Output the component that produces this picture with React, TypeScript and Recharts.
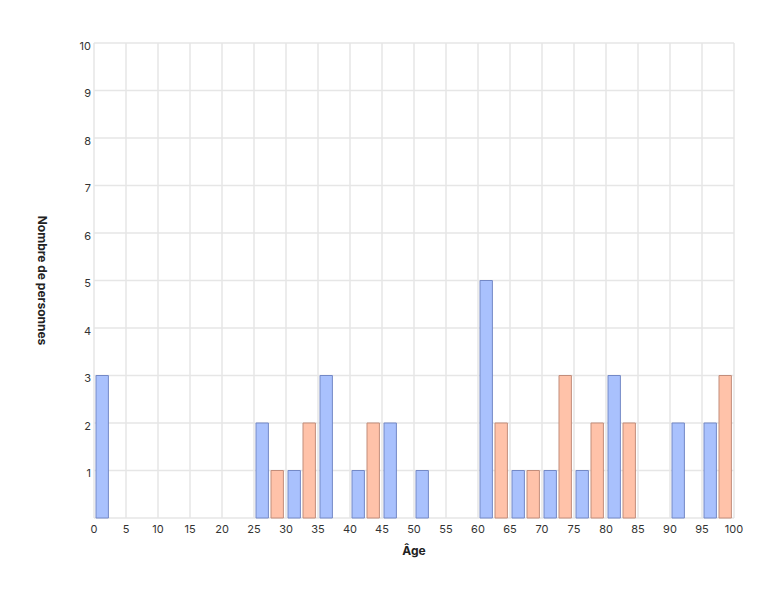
import React from 'react';
import { BarChart, Bar, XAxis, YAxis, CartesianGrid } from 'recharts';

const ageBins = [2.5, 7.5, 12.5, 17.5, 22.5, 27.5, 32.5, 37.5, 42.5, 47.5, 52.5, 57.5, 62.5, 67.5, 72.5, 77.5, 82.5, 87.5, 92.5, 97.5];
const blueCounts = [3, 0, 0, 0, 0, 2, 1, 3, 1, 2, 1, 0, 5, 1, 1, 1, 3, 0, 2, 2];
const orangeCounts = [0, 0, 0, 0, 0, 1, 2, 0, 2, 0, 0, 0, 2, 1, 3, 2, 2, 0, 0, 3];
const xTicks = [0, 5, 10, 15, 20, 25, 30, 35, 40, 45, 50, 55, 60, 65, 70, 75, 80, 85, 90, 95, 100];
const yTicks = [0, 1, 2, 3, 4, 5, 6, 7, 8, 9, 10];

const data = ageBins.map((age, i) => ({ age, blue: blueCounts[i], orange: orangeCounts[i] }));

const FONT = 'Inter, "Noto Sans", sans-serif';

export default function App() {
  return (
    <div style={{ position: 'absolute', left: 0, top: 0, width: 774, height: 594, background: '#fff' }}>
      <BarChart
        width={774}
        height={594}
        data={data}
        margin={{ top: 43, right: 40, bottom: 36, left: 34 }}
        barGap={2.6}
      >
        <CartesianGrid stroke="#e6e6e6" strokeWidth={1.5} />
        <XAxis
          dataKey="age"
          type="number"
          domain={[0, 100]}
          ticks={xTicks}
          interval={0}
          height={40}
          axisLine={false}
          tickLine={false}
          tickSize={5}
          tickMargin={2}
          tick={{ fontSize: 11, fill: '#333', fontFamily: FONT }}
          label={{ value: 'Âge', position: 'insideBottom', offset: 3, style: { fontSize: 12, fontWeight: 700, fill: '#222', fontFamily: FONT } }}
        />
        <YAxis
          type="number"
          domain={[0, 10]}
          ticks={yTicks}
          interval={0}
          width={60}
          axisLine={false}
          tickLine={false}
          tickSize={0}
          tickMargin={3}
          tickFormatter={(v: number) => (v === 0 ? '' : String(v))}
          tick={{ fontSize: 11, fill: '#333', fontFamily: FONT, dy: 3 }}
          label={{ value: 'Nombre de personnes', angle: 90, position: 'center', dx: -22, style: { fontSize: 12, fontWeight: 700, fill: '#222', fontFamily: FONT } }}
        />
        <Bar dataKey="blue" barSize={12.4} fill="#a9c1fd" stroke="#7489c6" strokeWidth={1} isAnimationActive={false} />
        <Bar dataKey="orange" barSize={12.4} fill="#ffc2a9" stroke="#c28d7b" strokeWidth={1} isAnimationActive={false} />
      </BarChart>
    </div>
  );
}
